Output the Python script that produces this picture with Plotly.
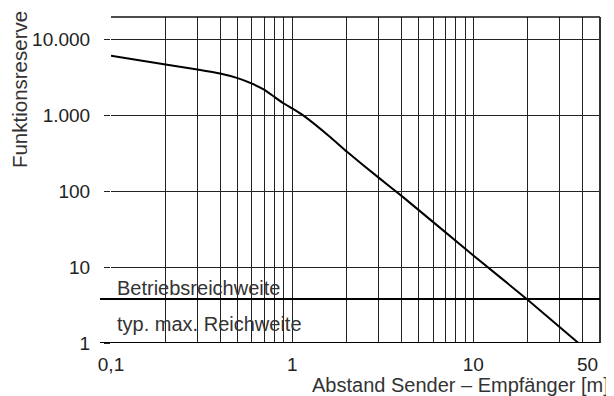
import plotly.graph_objects as go
import math

# Curve data
distance_m = [0.1, 0.2, 0.3, 0.4, 0.5, 0.6, 0.7, 0.8, 0.9, 1.0, 1.155, 1.62, 2, 3, 4, 10, 20, 38]
reserve = [6150, 4730, 4065, 3600, 3125, 2640, 2200, 1757, 1445, 1245, 1000, 523, 335, 152, 88, 14.3, 3.7, 1.0]

# Reference levels
level_names = ["Betriebsreichweite", "typ. max. Reichweite"]
level_values = [3.8, 1.0]

# Axes
x_grid = [0.1, 0.2, 0.3, 0.4, 0.5, 0.6, 0.7, 0.8, 0.9, 1, 2, 3, 4, 5, 6, 7, 8, 9, 10, 20, 30, 40, 50]
x_labels = {0.1: "0,1", 1: "1", 10: "10"}
x_end_label = (50, "50")
y_ticks = [1, 10, 100, 1000, 10000]
y_labels = ["1", "10", "100", "1.000", "10.000"]
x_range = (0.1, 50)
y_range = (1, 20000)

FONT = "Liberation Sans, Arial, sans-serif"
TXT = "#222222"
GRID = "#222222"

fig = go.Figure()
fig.add_trace(go.Scatter(x=distance_m, y=reserve, mode="lines",
                         line=dict(color="black", width=2, shape="spline", smoothing=0.3),
                         showlegend=False, hoverinfo="skip"))

# page body has an 8px margin: figure is 606x388 and sits at (8, 8)
fig.update_layout(
    width=606, height=388,
    margin=dict(l=103, r=14, t=9, b=53),
    paper_bgcolor="white", plot_bgcolor="white",
    font=dict(family=FONT, size=19, color=TXT),
    showlegend=False,
)

fig.update_xaxes(
    type="log", range=[math.log10(x_range[0]), math.log10(x_range[1])],
    tickmode="array", tickvals=x_grid,
    ticktext=[x_labels.get(v, "") for v in x_grid],
    showgrid=True, gridcolor=GRID, gridwidth=1,
    ticks="", showline=False, zeroline=False,
    tickfont=dict(family=FONT, size=19, color=TXT),
    ticklabelstandoff=8,
)
fig.update_yaxes(
    type="log", range=[math.log10(y_range[0]), math.log10(y_range[1])],
    tickmode="array", tickvals=y_ticks, ticktext=y_labels,
    showgrid=True, gridcolor=GRID, gridwidth=1,
    ticks="outside", ticklen=6, tickcolor=GRID, tickwidth=1,
    showline=False, zeroline=False,
    tickfont=dict(family=FONT, size=19, color=TXT),
    ticklabelstandoff=10,
)

# frame: top and right
fig.add_shape(type="line", xref="paper", yref="paper", x0=0, x1=1, y0=1, y1=1,
              line=dict(color="#111", width=1.5))
fig.add_shape(type="line", xref="paper", yref="paper", x0=1, x1=1, y0=0, y1=1,
              line=dict(color="#333", width=2))

# reference level lines and labels
label_yshift = [-2, 6]
for name, val, ys in zip(level_names, level_values, label_yshift):
    fig.add_shape(type="line", xref="paper", yref="y", x0=-0.0225, x1=1, y0=val, y1=val,
                  line=dict(color="black", width=2))
    fig.add_annotation(text=name, xref="paper", yref="y", x=0.008, y=math.log10(val),
                       xanchor="left", yanchor="bottom", showarrow=False, yshift=ys,
                       font=dict(family=FONT, size=20, color="#333"))

# end label 50 (right aligned)
fig.add_annotation(text=x_end_label[1], xref="x", yref="paper", x=math.log10(x_end_label[0]),
                   y=-0.067, xanchor="right", yanchor="middle", showarrow=False,
                   font=dict(family=FONT, size=19, color=TXT))

# axis titles
fig.add_annotation(text="Funktionsreserve", xref="paper", yref="paper", x=-0.188, y=0.776,
                   textangle=-90, xanchor="center", yanchor="middle", showarrow=False,
                   font=dict(family=FONT, size=20.5, color="#333"))
fig.add_annotation(text="Abstand Sender – Empfänger [m]", xref="paper", yref="paper",
                   x=1.0215, y=-0.128, xanchor="right", yanchor="middle", showarrow=False,
                   font=dict(family=FONT, size=20, color="#333"))

fig.write_html("out.html")
